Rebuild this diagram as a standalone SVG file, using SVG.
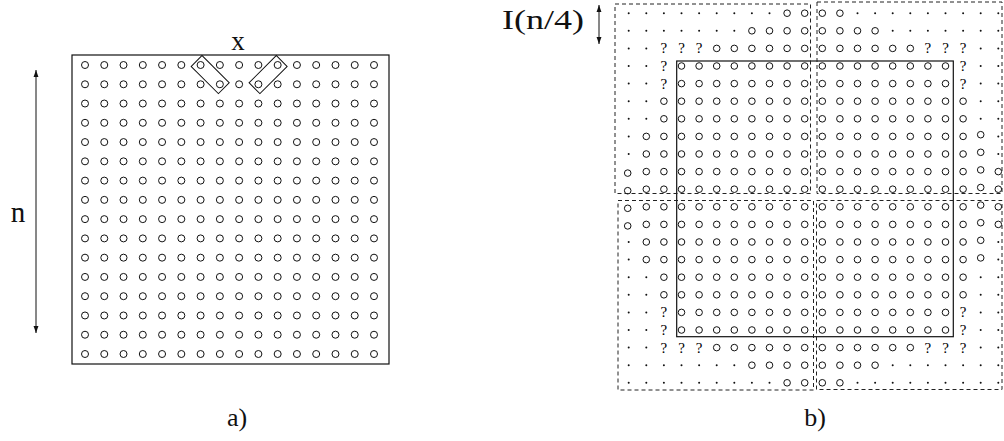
<svg xmlns="http://www.w3.org/2000/svg" xmlns:xlink="http://www.w3.org/1999/xlink" width="1004" height="441" viewBox="0 0 1004 441">
<style>
.o{fill:none;stroke:#111;stroke-width:1}
.d{fill:#111}
.q{font-family:"Liberation Serif","DejaVu Serif",serif;font-size:15px;fill:#000;text-anchor:middle}
.lbl{font-family:"Liberation Serif","DejaVu Serif",serif;fill:#111}
.frame{fill:none;stroke:#111;stroke-width:1.2}
.dash{fill:none;stroke:#222;stroke-width:1;stroke-dasharray:4 3}
.arr{stroke:#111;stroke-width:1;fill:none}
</style>
<defs>
<marker id="ah" viewBox="0 0 10 10" refX="10" refY="5" markerWidth="7" markerHeight="7" orient="auto-start-reverse" markerUnits="userSpaceOnUse">
<path d="M0,1.5 L10,5 L0,8.5 z" fill="#111"/>
</marker>
<g id="L">
<circle class="o" cx="0" cy="0" r="3.5"/><circle class="o" cx="19.27" cy="0" r="3.5"/><circle class="o" cx="38.53" cy="0" r="3.5"/><circle class="o" cx="57.8" cy="0" r="3.5"/><circle class="o" cx="77.07" cy="0" r="3.5"/><circle class="o" cx="96.33" cy="0" r="3.5"/><circle class="o" cx="115.6" cy="0" r="3.5"/><circle class="o" cx="134.87" cy="0" r="3.5"/><circle class="o" cx="154.13" cy="0" r="3.5"/><circle class="o" cx="173.4" cy="0" r="3.5"/><circle class="o" cx="192.67" cy="0" r="3.5"/><circle class="o" cx="211.93" cy="0" r="3.5"/><circle class="o" cx="231.2" cy="0" r="3.5"/><circle class="o" cx="250.47" cy="0" r="3.5"/><circle class="o" cx="269.73" cy="0" r="3.5"/><circle class="o" cx="289" cy="0" r="3.5"/>
</g>
<g id="R0">
<circle class="d" cx="0" cy="0" r="1"/><circle class="d" cx="17.6" cy="0" r="1"/><circle class="d" cx="35.2" cy="0" r="1"/><circle class="d" cx="52.8" cy="0" r="1"/><circle class="d" cx="70.4" cy="0" r="1"/><circle class="d" cx="88" cy="0" r="1"/><circle class="d" cx="105.6" cy="0" r="1"/><circle class="d" cx="123.2" cy="0" r="1"/><circle class="d" cx="140.8" cy="0" r="1"/>
<circle class="o" cx="158.4" cy="0" r="3.3"/><circle class="o" cx="176" cy="0" r="3.3"/><circle class="o" cx="193.6" cy="0" r="3.3"/><circle class="o" cx="211.2" cy="0" r="3.3"/>
<circle class="d" cx="228.8" cy="0" r="1"/><circle class="d" cx="246.4" cy="0" r="1"/><circle class="d" cx="264" cy="0" r="1"/><circle class="d" cx="281.6" cy="0" r="1"/><circle class="d" cx="299.2" cy="0" r="1"/><circle class="d" cx="316.8" cy="0" r="1"/><circle class="d" cx="334.4" cy="0" r="1"/><circle class="d" cx="352" cy="0" r="1"/><circle class="d" cx="369.6" cy="0" r="1"/>
</g>
<g id="R1">
<circle class="d" cx="0" cy="0" r="1"/><circle class="d" cx="17.6" cy="0" r="1"/><circle class="d" cx="35.2" cy="0" r="1"/><circle class="d" cx="52.8" cy="0" r="1"/><circle class="d" cx="70.4" cy="0" r="1"/><circle class="d" cx="88" cy="0" r="1"/><circle class="d" cx="105.6" cy="0" r="1"/>
<circle class="o" cx="123.2" cy="0" r="3.3"/><circle class="o" cx="140.8" cy="0" r="3.3"/><circle class="o" cx="158.4" cy="0" r="3.3"/><circle class="o" cx="176" cy="0" r="3.3"/><circle class="o" cx="193.6" cy="0" r="3.3"/><circle class="o" cx="211.2" cy="0" r="3.3"/><circle class="o" cx="228.8" cy="0" r="3.3"/><circle class="o" cx="246.4" cy="0" r="3.3"/>
<circle class="d" cx="264" cy="0" r="1"/><circle class="d" cx="281.6" cy="0" r="1"/><circle class="d" cx="299.2" cy="0" r="1"/><circle class="d" cx="316.8" cy="0" r="1"/><circle class="d" cx="334.4" cy="0" r="1"/><circle class="d" cx="352" cy="0" r="1"/><circle class="d" cx="369.6" cy="0" r="1"/>
</g>
<g id="R2">
<circle class="d" cx="0" cy="0" r="1"/><circle class="d" cx="17.6" cy="0" r="1"/>
<text class="q" x="35.2" y="5">?</text><text class="q" x="52.8" y="5">?</text><text class="q" x="70.4" y="5">?</text>
<circle class="o" cx="88" cy="0" r="3.3"/><circle class="o" cx="105.6" cy="0" r="3.3"/><circle class="o" cx="123.2" cy="0" r="3.3"/><circle class="o" cx="140.8" cy="0" r="3.3"/><circle class="o" cx="158.4" cy="0" r="3.3"/><circle class="o" cx="176" cy="0" r="3.3"/><circle class="o" cx="193.6" cy="0" r="3.3"/><circle class="o" cx="211.2" cy="0" r="3.3"/><circle class="o" cx="228.8" cy="0" r="3.3"/><circle class="o" cx="246.4" cy="0" r="3.3"/><circle class="o" cx="264" cy="0" r="3.3"/><circle class="o" cx="281.6" cy="0" r="3.3"/>
<text class="q" x="299.2" y="5">?</text><text class="q" x="316.8" y="5">?</text><text class="q" x="334.4" y="5">?</text>
<circle class="d" cx="352" cy="0" r="1"/><circle class="d" cx="369.6" cy="0" r="1"/>
</g>
<g id="R3">
<circle class="d" cx="0" cy="0" r="1"/><circle class="d" cx="17.6" cy="0" r="1"/>
<text class="q" x="35.2" y="5">?</text>
<circle class="o" cx="52.8" cy="0" r="3.3"/><circle class="o" cx="70.4" cy="0" r="3.3"/><circle class="o" cx="88" cy="0" r="3.3"/><circle class="o" cx="105.6" cy="0" r="3.3"/><circle class="o" cx="123.2" cy="0" r="3.3"/><circle class="o" cx="140.8" cy="0" r="3.3"/><circle class="o" cx="158.4" cy="0" r="3.3"/><circle class="o" cx="176" cy="0" r="3.3"/><circle class="o" cx="193.6" cy="0" r="3.3"/><circle class="o" cx="211.2" cy="0" r="3.3"/><circle class="o" cx="228.8" cy="0" r="3.3"/><circle class="o" cx="246.4" cy="0" r="3.3"/><circle class="o" cx="264" cy="0" r="3.3"/><circle class="o" cx="281.6" cy="0" r="3.3"/><circle class="o" cx="299.2" cy="0" r="3.3"/><circle class="o" cx="316.8" cy="0" r="3.3"/>
<text class="q" x="334.4" y="5">?</text>
<circle class="d" cx="352" cy="0" r="1"/><circle class="d" cx="369.6" cy="0" r="1"/>
</g>
<g id="R5">
<circle class="d" cx="0" cy="0" r="1"/><circle class="d" cx="17.6" cy="0" r="1"/>
<circle class="o" cx="35.2" cy="0" r="3.3"/><circle class="o" cx="52.8" cy="0" r="3.3"/><circle class="o" cx="70.4" cy="0" r="3.3"/><circle class="o" cx="88" cy="0" r="3.3"/><circle class="o" cx="105.6" cy="0" r="3.3"/><circle class="o" cx="123.2" cy="0" r="3.3"/><circle class="o" cx="140.8" cy="0" r="3.3"/><circle class="o" cx="158.4" cy="0" r="3.3"/><circle class="o" cx="176" cy="0" r="3.3"/><circle class="o" cx="193.6" cy="0" r="3.3"/><circle class="o" cx="211.2" cy="0" r="3.3"/><circle class="o" cx="228.8" cy="0" r="3.3"/><circle class="o" cx="246.4" cy="0" r="3.3"/><circle class="o" cx="264" cy="0" r="3.3"/><circle class="o" cx="281.6" cy="0" r="3.3"/><circle class="o" cx="299.2" cy="0" r="3.3"/><circle class="o" cx="316.8" cy="0" r="3.3"/><circle class="o" cx="334.4" cy="0" r="3.3"/>
<circle class="d" cx="352" cy="0" r="1"/><circle class="d" cx="369.6" cy="0" r="1"/>
</g>
<g id="R7">
<circle class="d" cx="0" cy="0" r="1"/>
<circle class="o" cx="17.6" cy="0" r="3.3"/><circle class="o" cx="35.2" cy="0" r="3.3"/><circle class="o" cx="52.8" cy="0" r="3.3"/><circle class="o" cx="70.4" cy="0" r="3.3"/><circle class="o" cx="88" cy="0" r="3.3"/><circle class="o" cx="105.6" cy="0" r="3.3"/><circle class="o" cx="123.2" cy="0" r="3.3"/><circle class="o" cx="140.8" cy="0" r="3.3"/><circle class="o" cx="158.4" cy="0" r="3.3"/><circle class="o" cx="176" cy="0" r="3.3"/><circle class="o" cx="193.6" cy="0" r="3.3"/><circle class="o" cx="211.2" cy="0" r="3.3"/><circle class="o" cx="228.8" cy="0" r="3.3"/><circle class="o" cx="246.4" cy="0" r="3.3"/><circle class="o" cx="264" cy="0" r="3.3"/><circle class="o" cx="281.6" cy="0" r="3.3"/><circle class="o" cx="299.2" cy="0" r="3.3"/><circle class="o" cx="316.8" cy="0" r="3.3"/><circle class="o" cx="334.4" cy="0" r="3.3"/><circle class="o" cx="352" cy="-1.7" r="3.3"/>
<circle class="d" cx="369.6" cy="0" r="1"/>
</g>
<g id="R9">
<circle class="o" cx="-1" cy="1.5" r="3.3"/>
<circle class="o" cx="17.6" cy="0" r="3.3"/><circle class="o" cx="35.2" cy="0" r="3.3"/><circle class="o" cx="52.8" cy="0" r="3.3"/><circle class="o" cx="70.4" cy="0" r="3.3"/><circle class="o" cx="88" cy="0" r="3.3"/><circle class="o" cx="105.6" cy="0" r="3.3"/><circle class="o" cx="123.2" cy="0" r="3.3"/><circle class="o" cx="140.8" cy="0" r="3.3"/><circle class="o" cx="158.4" cy="0" r="3.3"/><circle class="o" cx="176" cy="0" r="3.3"/><circle class="o" cx="193.6" cy="0" r="3.3"/><circle class="o" cx="211.2" cy="0" r="3.3"/><circle class="o" cx="228.8" cy="0" r="3.3"/><circle class="o" cx="246.4" cy="0" r="3.3"/><circle class="o" cx="264" cy="0" r="3.3"/><circle class="o" cx="281.6" cy="0" r="3.3"/><circle class="o" cx="299.2" cy="0" r="3.3"/><circle class="o" cx="316.8" cy="0" r="3.3"/><circle class="o" cx="334.4" cy="0" r="3.3"/><circle class="o" cx="352" cy="-1.7" r="3.3"/>
<circle class="o" cx="369.6" cy="0" r="3.3"/>
</g>
</defs>
<rect width="1004" height="441" fill="#fff"/>

<g id="panel-a">
<rect class="frame" x="72" y="55" width="317" height="309"/>
<g id="grid-a">
<use href="#L" transform="translate(85,65)"/>
<use href="#L" transform="translate(85,84.27)"/>
<use href="#L" transform="translate(85,103.53)"/>
<use href="#L" transform="translate(85,122.8)"/>
<use href="#L" transform="translate(85,142.07)"/>
<use href="#L" transform="translate(85,161.33)"/>
<use href="#L" transform="translate(85,180.6)"/>
<use href="#L" transform="translate(85,199.87)"/>
<use href="#L" transform="translate(85,219.13)"/>
<use href="#L" transform="translate(85,238.4)"/>
<use href="#L" transform="translate(85,257.67)"/>
<use href="#L" transform="translate(85,276.93)"/>
<use href="#L" transform="translate(85,296.2)"/>
<use href="#L" transform="translate(85,315.47)"/>
<use href="#L" transform="translate(85,334.73)"/>
<use href="#L" transform="translate(85,354)"/>
</g>
<g id="pair-1"><rect class="arr" x="-19.25" y="-7.65" width="38.5" height="15.3" transform="translate(210.2,74.6) rotate(45)"/></g>
<g id="pair-2"><rect class="arr" x="-19.25" y="-7.65" width="38.5" height="15.3" transform="translate(268.1,74.6) rotate(-45)"/></g>
<text class="lbl" x="238" y="50" font-size="27" text-anchor="middle">x</text>
<text class="lbl" x="18" y="222" font-size="29" text-anchor="middle">n</text>
<text class="lbl" x="237" y="426" font-size="26" text-anchor="middle">a)</text>
</g>

<g id="panel-b">
<g id="grid-b">
<use href="#R0" transform="translate(628.7,13.2)"/>
<use href="#R1" transform="translate(628.7,30.8)"/>
<use href="#R2" transform="translate(628.7,48.4)"/>
<use href="#R3" transform="translate(628.7,66)"/>
<use href="#R3" transform="translate(628.7,83.6)"/>
<use href="#R5" transform="translate(628.7,101.2)"/>
<use href="#R5" transform="translate(628.7,118.8)"/>
<use href="#R7" transform="translate(628.7,136.4)"/>
<use href="#R7" transform="translate(628.7,154)"/>
<use href="#R9" transform="translate(628.7,171.6)"/>
<use href="#R9" transform="translate(628.7,189.2)"/>
<use href="#R9" transform="translate(628.7,206.8)"/>
<use href="#R9" transform="translate(628.7,224.4)"/>
<use href="#R7" transform="translate(628.7,242)"/>
<use href="#R7" transform="translate(628.7,259.6)"/>
<use href="#R5" transform="translate(628.7,277.2)"/>
<use href="#R5" transform="translate(628.7,294.8)"/>
<use href="#R3" transform="translate(628.7,312.4)"/>
<use href="#R3" transform="translate(628.7,330)"/>
<use href="#R2" transform="translate(628.7,347.6)"/>
<use href="#R1" transform="translate(628.7,365.2)"/>
<use href="#R0" transform="translate(628.7,382.8)"/>
</g>
<rect class="frame" x="676.7" y="61" width="276.6" height="275.7"/>
<g id="quad-tl"><rect class="dash" x="615" y="4" width="195.5" height="189.5"/></g>
<g id="quad-tr"><rect class="dash" x="817" y="2" width="185" height="191.5"/></g>
<g id="quad-bl"><rect class="dash" x="618" y="200.5" width="195.5" height="189.5"/></g>
<g id="quad-br"><rect class="dash" x="816.5" y="200.5" width="185.5" height="189"/></g>
<text class="lbl" x="502" y="29" font-size="27" font-weight="normal" textLength="82" lengthAdjust="spacingAndGlyphs">I(n/4)</text>
<text class="lbl" x="815" y="426" font-size="26" text-anchor="middle">b)</text>
</g>

<g id="connectors">
<line class="arr" x1="36" y1="70" x2="36" y2="333" marker-start="url(#ah)" marker-end="url(#ah)"/>
<line class="arr" x1="599" y1="5" x2="599" y2="44" marker-start="url(#ah)" marker-end="url(#ah)"/>
</g>
</svg>
